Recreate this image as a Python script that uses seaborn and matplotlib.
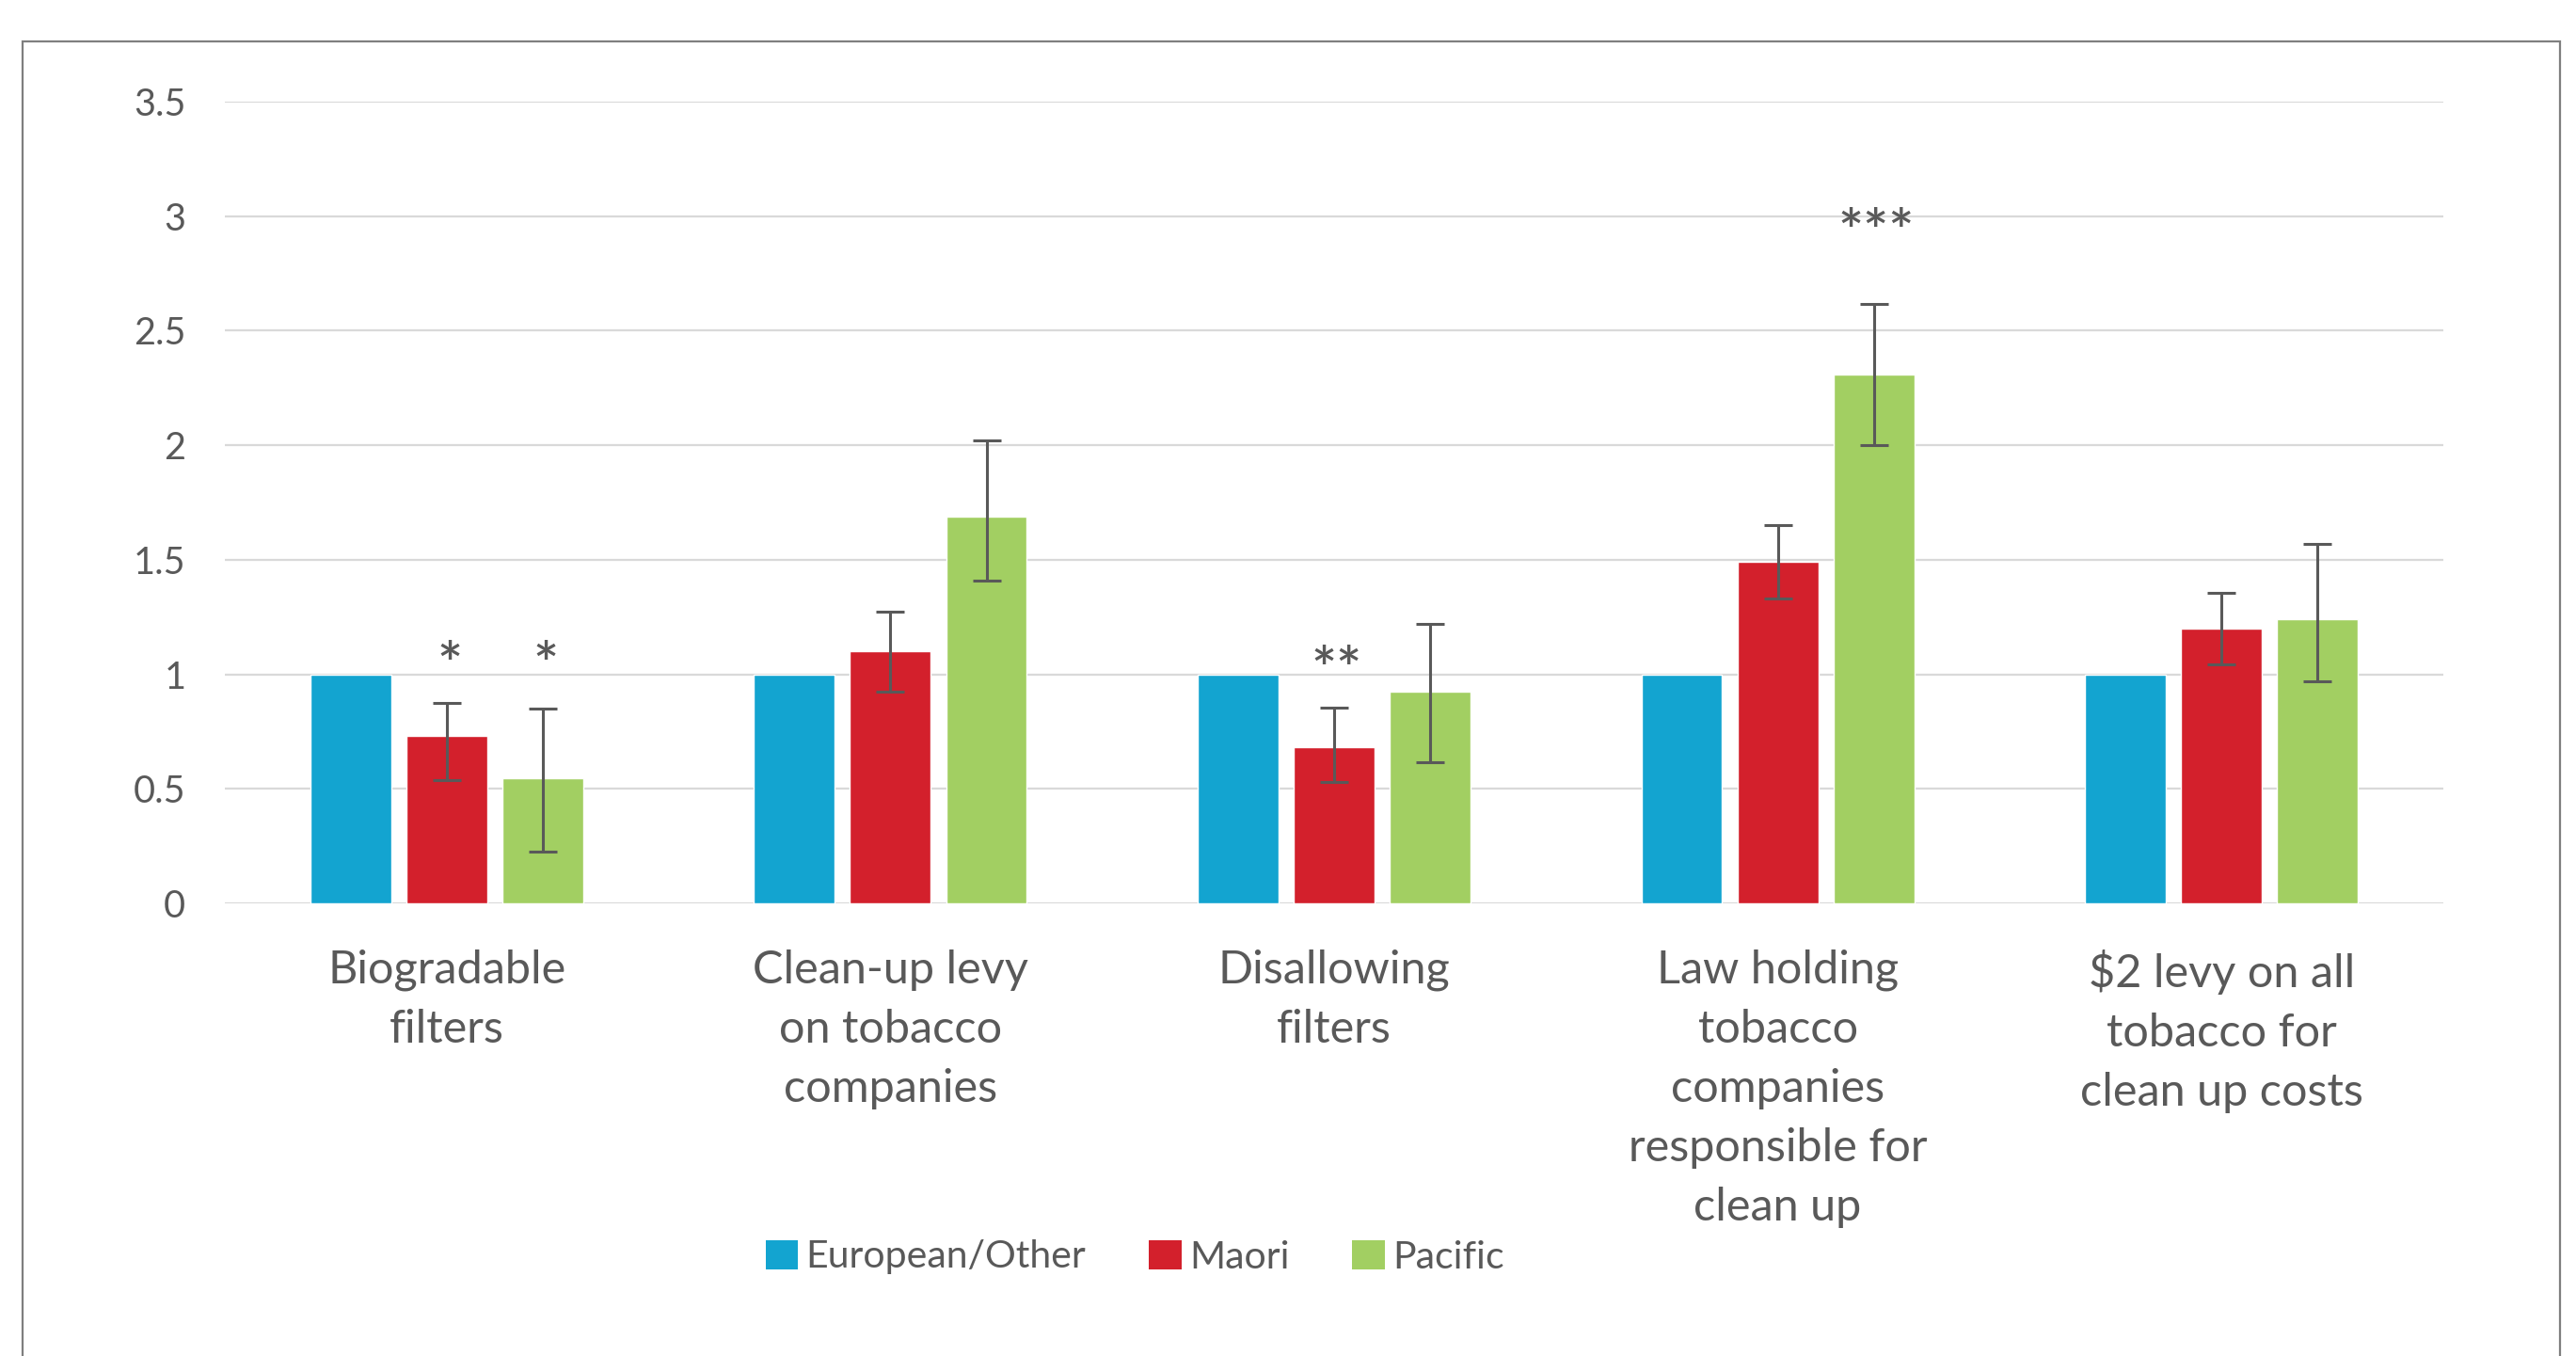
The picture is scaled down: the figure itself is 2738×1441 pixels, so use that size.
import matplotlib
matplotlib.use("Agg")
import matplotlib.pyplot as plt
from matplotlib.patches import Rectangle, Patch
import numpy as np
import pandas as pd
import seaborn as sns

# Odds ratios of support for each policy, by ethnic group (reference: European/Other)
measures = [
    "Biogradable\nfilters",
    "Clean-up levy\non tobacco\ncompanies",
    "Disallowing\nfilters",
    "Law holding\ntobacco\ncompanies\nresponsible for\nclean up",
    r"\$2 levy on all" + "\ntobacco for\nclean up costs",
]
groups = ["European/Other", "Maori", "Pacific"]

european = [1.0, 1.0, 1.0, 1.0, 1.0]
maori = [0.73, 1.10, 0.68, 1.49, 1.20]
maori_lo = [0.54, 0.925, 0.53, 1.33, 1.045]
maori_hi = [0.875, 1.275, 0.855, 1.65, 1.355]
pacific = [0.545, 1.69, 0.925, 2.31, 1.24]
pacific_lo = [0.225, 1.41, 0.615, 2.0, 0.97]
pacific_hi = [0.85, 2.02, 1.22, 2.615, 1.57]

# significance markers: (measure index, group, label)
significance = [(0, "Maori", "*"), (0, "Pacific", "*"),
                (2, "Maori", "**"), (3, "Pacific", "***")]
sig_y = [1.10, 1.10, 1.08, 2.99]

colors = ["#13A4D0", "#D3202C", "#A2CF62"]
text_color = "#595959"

df = pd.DataFrame({
    "measure": measures * 3,
    "group": [g for g in groups for _ in measures],
    "value": european + maori + pacific,
})

sns.set_theme(style="white")
plt.rcParams["font.family"] = ["Lato", "DejaVu Sans"]

W, H = 2738, 1441
fig = plt.figure(figsize=(W / 100, H / 100), dpi=100)
fig.patch.set_facecolor("white")
ax = fig.add_axes([239 / W, (H - 960) / H, (2597 - 239) / W, (960 - 108) / H])

sns.barplot(data=df, x="measure", y="value", hue="group", hue_order=groups,
            palette=colors, width=0.65, gap=0.16, errorbar=None,
            saturation=1, ax=ax, legend=False)

# confidence intervals for Maori and Pacific bars
lows = {"Maori": maori_lo, "Pacific": pacific_lo}
highs = {"Maori": maori_hi, "Pacific": pacific_hi}
vals = {"Maori": maori, "Pacific": pacific}
centers = {}
for g, cont in zip(groups, ax.containers):
    centers[g] = [p.get_x() + p.get_width() / 2 for p in cont.patches]
for g in ["Maori", "Pacific"]:
    v = np.array(vals[g])
    lo = np.array(lows[g])
    hi = np.array(highs[g])
    ax.errorbar(centers[g], v, yerr=[v - lo, hi - v], fmt="none",
                ecolor=text_color, elinewidth=2.2, capsize=10.8,
                capthick=2.2, zorder=4)

# asterisk glyphs sit high in the em box, so nudge the text down a little
for (i, g, lab), y in zip(significance, sig_y):
    ax.annotate(lab, (centers[g][i], y), xytext=(2, -13),
                textcoords="offset points", ha="center", va="center",
                fontsize=46, fontweight="semibold", color=text_color,
                zorder=5)

ax.set_ylim(0, 3.5)
ax.set_xlim(-0.5, 4.5)
ax.set_yticks(np.arange(0, 3.51, 0.5))
ax.set_yticklabels(["0", "0.5", "1", "1.5", "2", "2.5", "3", "3.5"])
ax.yaxis.grid(True, color="#D9D9D9", linewidth=1.6)
ax.set_axisbelow(True)
for s in ax.spines.values():
    s.set_visible(False)
ax.set_xlabel("")
ax.set_ylabel("")
ax.tick_params(axis="y", length=0, pad=30, labelsize=28.5, labelcolor=text_color)
ax.tick_params(axis="x", length=0, pad=35, labelsize=35, labelcolor=text_color)
for t in ax.get_xticklabels():
    t.set_linespacing(1.53)

handles = [Patch(facecolor=c, edgecolor="none") for c in colors]
fig.legend(handles, groups, loc="center", bbox_to_anchor=(1206 / W, 105 / H),
           ncol=3, frameon=False, fontsize=29.5, labelcolor=text_color,
           handlelength=0.85, handleheight=0.8, handletextpad=0.2,
           columnspacing=1.62, borderpad=0)

fig.add_artist(Rectangle((24 / W, -0.05), (2721 - 24) / W, (H - 44) / H + 0.05,
                         transform=fig.transFigure, fill=False,
                         edgecolor="#7F7F7F", linewidth=1.6))

fig.savefig("out.png", dpi=100, facecolor="white")
